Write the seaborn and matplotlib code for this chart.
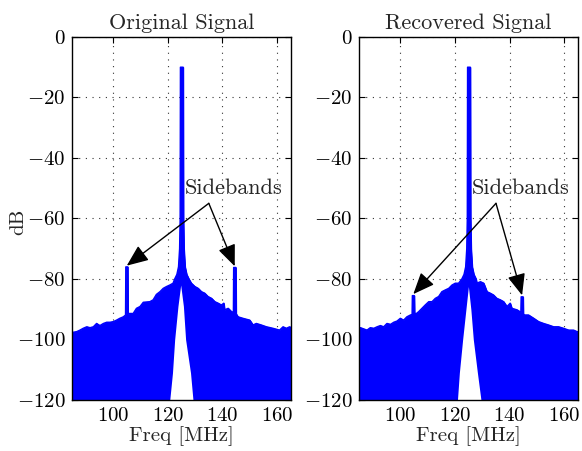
import matplotlib
matplotlib.use("Agg")
import matplotlib.pyplot as plt
import pandas as pd
import seaborn as sns

# ---------------- data ----------------
# Original signal: upper envelope of the spectrum (freq in MHz, level in dB)
orig_freq = [85, 85.4, 86.6, 87.8, 89.0, 90.3, 91.5, 92.7, 93.9, 95.1, 96.4, 97.6, 98.8,
             100.0, 101.2, 102.4, 103.7, 104.5, 104.6, 105.3, 105.4, 105.9, 107.3, 108.5,
             109.8, 111.0, 113.4, 114.6, 115.8, 117.1, 118.3, 119.5, 120.7, 121.9,
             122.5, 123.3, 123.9, 124.3, 124.5, 124.6, 125.6, 125.7, 125.9, 126.3,
             126.9, 127.7, 128.6, 129.9, 131.1, 132.3, 133.5, 134.7, 136.0, 137.2,
             138.4, 139.6, 140.5, 140.8, 142.1, 143.3, 144.0, 144.1, 144.9, 145.0,
             145.7, 147.5, 150.0, 151.2, 152.4, 154.2, 156.1, 158.5, 160.9, 162.2,
             163.4, 164.6, 165]
orig_db = [-97.6, -97.6, -97.4, -96.9, -96.3, -95.8, -96.1, -95.8, -94.7, -95.4, -94.7,
           -94.3, -94.3, -94.1, -93.6, -93.0, -92.5, -91.9, -76.0, -76.0, -91.5, -91.4,
           -91.4, -89.7, -89.1, -87.7, -87.5, -86.9, -85.1, -84.2, -83.1, -82.5, -82.0,
           -81.4, -80.0, -78.5, -76.0, -70.0, -60.0, -10.0, -10.0, -60.0, -70.0,
           -76.0, -78.5, -80.0, -81.4, -82.5, -83.1, -84.2, -84.7, -85.8, -86.4,
           -87.5, -88.0, -88.6, -88.0, -90.2, -89.7, -90.8, -91.0, -76.2, -76.2,
           -91.5, -92.5, -93.0, -93.6, -95.2, -94.7, -95.2, -95.8, -96.3, -96.9,
           -95.8, -96.3, -95.8, -96.0]

# Recovered signal: upper envelope of the spectrum
rec_freq = [85, 85.4, 86.6, 87.8, 89.0, 90.3, 91.5, 92.7, 93.9, 95.1, 96.4, 97.6, 98.8,
            100.0, 101.2, 102.4, 103.7, 104.3, 104.4, 105.1, 105.2, 105.9, 106.7, 107.9,
            109.1, 110.4, 111.6, 112.8, 114.0, 115.2, 116.5, 117.7, 118.9, 120.1,
            121.3, 122.5, 123.3, 123.9, 124.3, 124.5, 124.6, 125.6, 125.7, 125.9,
            126.3, 126.9, 127.7, 128.0, 129.3, 130.5, 131.7, 132.9, 134.1, 135.3,
            136.6, 137.8, 139.0, 140.2, 140.8, 142.7, 144.1, 144.2, 144.9, 145.0,
            145.3, 146.9, 148.8, 150.6, 152.4, 154.2, 156.1, 157.9, 159.7, 161.6,
            163.4, 164.6, 165]
rec_db = [-96.1, -96.1, -96.5, -96.9, -96.1, -96.3, -95.8, -95.4, -95.8, -94.7, -95.0,
          -94.3, -93.9, -93.0, -93.6, -92.5, -91.9, -91.7, -85.5, -85.5, -91.4, -91.4,
          -90.8, -89.7, -88.6, -87.5, -87.5, -86.4, -85.8, -84.2, -83.6, -83.1, -82.0,
          -81.4, -81.4, -80.0, -78.5, -76.0, -70.0, -60.0, -10.0, -10.0, -60.0,
          -70.0, -76.0, -78.5, -80.0, -81.4, -80.9, -81.4, -84.2, -84.7, -85.3,
          -86.4, -86.9, -87.5, -89.1, -88.0, -89.7, -90.2, -91.0, -85.9, -85.9,
          -91.5, -91.9, -91.9, -93.0, -94.1, -94.7, -95.2, -95.8, -95.8, -96.3,
          -96.9, -96.9, -97.4, -97.4]

# Lower envelope near the carrier (the empty notch under the carrier)
orig_notch_freq = [120.7, 121.7, 122.5, 123.7, 124.7, 125.7, 126.5, 128.3, 129.2]
orig_notch_db = [-120, -111, -100, -89, -82, -89, -100, -111, -120]
rec_notch_freq = [120.9, 121.6, 122.8, 124.0, 124.9, 125.8, 126.7, 128.2, 129.5]
rec_notch_db = [-120, -111, -100, -90, -82.5, -90, -100, -111, -120]

# Sideband annotation targets (tips of the arrows)
orig_sb_freq = [104.95, 144.5]
orig_sb_db = [-75.6, -75.8]
rec_sb_freq = [104.75, 144.55]
rec_sb_db = [-85.0, -85.4]

titles = ["Original Signal", "Recovered Signal"]
x_ticks = [100, 120, 140, 160]
y_ticks = [0, -20, -40, -60, -80, -100, -120]
floor_db = -120

# ---------------- style ----------------
sns.set_style("ticks")
plt.rcParams.update({
    "font.family": ["cmr10", "DejaVu Serif"],
    "mathtext.fontset": "cm",
    "axes.formatter.use_mathtext": True,
    "axes.unicode_minus": True,
    "axes.edgecolor": "black",
    "axes.linewidth": 1.0,
    "xtick.direction": "in",
    "ytick.direction": "in",
    "xtick.top": True,
    "ytick.right": True,
    "xtick.major.size": 4,
    "ytick.major.size": 4,
    "xtick.color": "black",
    "ytick.color": "black",
})

BLUE = "#0000ff"
fig = plt.figure(figsize=(5.82, 4.51), dpi=100)
ax1 = fig.add_axes([0.1242, 0.1131, 0.3753, 0.805])
ax2 = fig.add_axes([0.6174, 0.1131, 0.3757, 0.805])

panels = [
    (ax1, orig_freq, orig_db, orig_notch_freq, orig_notch_db, orig_sb_freq, orig_sb_db),
    (ax2, rec_freq, rec_db, rec_notch_freq, rec_notch_db, rec_sb_freq, rec_sb_db),
]

for i, (ax, f, d, nf, nd, sf, sd) in enumerate(panels):
    df = pd.DataFrame({"freq": f, "db": d})
    ax.set_axisbelow(True)
    ax.fill_between(df["freq"], df["db"], floor_db, color=BLUE, lw=0.8,
                    edgecolor=BLUE, zorder=1)
    sns.lineplot(data=df, x="freq", y="db", ax=ax, color=BLUE, lw=1.0,
                 sort=False, estimator=None, zorder=2)
    ax.fill_between(nf, nd, floor_db, color="white", lw=0, zorder=1.2)

    ax.set_xlim(85, 165)
    ax.set_ylim(-120, 0)
    ax.set_xticks(x_ticks)
    ax.set_yticks(y_ticks)
    ax.grid(True, color="#333333", linestyle=(0, (1, 5)), lw=0.8)
    ax.tick_params(labelsize=15, pad=5)
    for s in ax.spines.values():
        s.set_visible(True)
        s.set_zorder(3)
    ax.set_title(titles[i], fontsize=16, pad=6)
    ax.set_xlabel("Freq [MHz]", fontsize=15, labelpad=1)
    if i == 0:
        ax.set_ylabel("dB", fontsize=15)
        ax.yaxis.set_label_coords(-0.205, 0.49)
    else:
        ax.set_ylabel("")

    ax.text(144.1, -50, "Sidebands", ha="center", va="center", fontsize=16, zorder=5)
    for fx, dy in zip(sf, sd):
        ax.annotate("", xy=(fx, dy), xytext=(135.0, -55.0),
                    arrowprops=dict(arrowstyle="-|>,head_length=0.6,head_width=0.25",
                                    color="black", lw=1.0, mutation_scale=22,
                                    shrinkA=0, shrinkB=0),
                    zorder=5)

fig.savefig("out.png", dpi=100)
